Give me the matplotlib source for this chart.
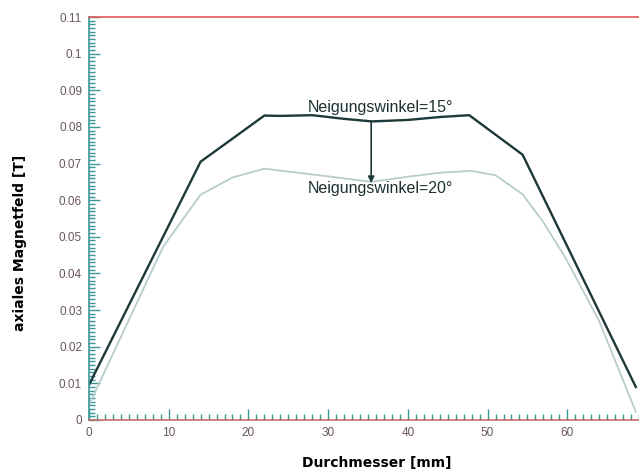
import numpy as np
import matplotlib
matplotlib.use('Agg')
import matplotlib.pyplot as plt
from matplotlib.ticker import MultipleLocator, FuncFormatter

# Durchmesser [mm] and axial field [T] for the two tilt angles
x_15 = [0, 14, 22, 24, 28, 32, 35.5, 40, 44, 47.7, 54.4, 68.6]
b_15 = [0.0096, 0.0705, 0.0831, 0.0830, 0.0832, 0.0822, 0.0815, 0.0819, 0.0827, 0.0832, 0.0724, 0.0090]

x_20 = [0, 5, 9.3, 14, 18, 22, 25, 30, 35.4, 40, 44, 48, 51, 54.4, 57, 59.8, 64, 68.6]
b_20 = [0.0041, 0.0273, 0.0473, 0.0615, 0.0662, 0.0686, 0.0678, 0.0665, 0.0650, 0.0664, 0.0675, 0.0680, 0.0668, 0.0616, 0.0540, 0.0442, 0.0270, 0.0022]

label_15 = 'Neigungswinkel=15°'
label_20 = 'Neigungswinkel=20°'

axis_col = '#3a9696'
label_col = '#6a5656'

fig = plt.figure(figsize=(6.39, 4.71), dpi=100)
ax = fig.add_axes([0.1393, 0.1083, 0.8732, 0.8556])

ax.plot(x_20, b_20, color='#b9cccc', lw=1.3)
ax.plot(x_15, b_15, color='#1d3838', lw=1.7)

ax.set_xlim(0, 70)
ax.set_ylim(0, 0.11)

# arrow between the two curves with the angle labels
ax.annotate('', xy=(35.4, 0.0647), xytext=(35.4, 0.0815),
            arrowprops=dict(arrowstyle='-|>', color='#1d3838', lw=1.2,
                            mutation_scale=9, shrinkA=0, shrinkB=0))
ax.text(36.6, 0.0852, label_15, ha='center', va='center', fontsize=11.5,
        family='Liberation Sans', color='#1d3030')
ax.text(36.6, 0.0631, label_20, ha='center', va='center', fontsize=11.5,
        family='Liberation Sans', color='#1d3030')

# spines: teal frame, red top line
ax.spines['left'].set_color(axis_col)
ax.spines['left'].set_linewidth(1.2)
ax.spines['bottom'].set_color('#c86a6a')
ax.spines['bottom'].set_linewidth(1.2)
ax.spines['top'].set_color('#e05a5a')
ax.spines['top'].set_linewidth(1.2)
ax.spines['right'].set_visible(False)

ax.xaxis.set_major_locator(MultipleLocator(10))
ax.xaxis.set_minor_locator(MultipleLocator(1))
ax.yaxis.set_major_locator(MultipleLocator(0.01))
ax.yaxis.set_minor_locator(MultipleLocator(0.001))
ax.yaxis.set_major_formatter(FuncFormatter(lambda v, p: '%g' % round(v, 3)))

ax.tick_params(which='both', direction='in', color=axis_col, width=1.0,
               top=False, right=False)
ax.tick_params(which='major', length=8, labelsize=8.5, labelcolor=label_col, pad=5)
ax.tick_params(which='minor', length=4)
for lab in ax.get_xticklabels() + ax.get_yticklabels():
    lab.set_family('Liberation Sans')

ax.set_xlabel('Durchmesser [mm]', fontsize=10, weight='bold')
ax.set_ylabel('axiales Magnetfeld [T]', fontsize=10, weight='bold')
ax.xaxis.set_label_coords(0.515, -0.09)
ax.yaxis.set_label_coords(-0.112, 0.44)

fig.savefig('out.png', dpi=100)
